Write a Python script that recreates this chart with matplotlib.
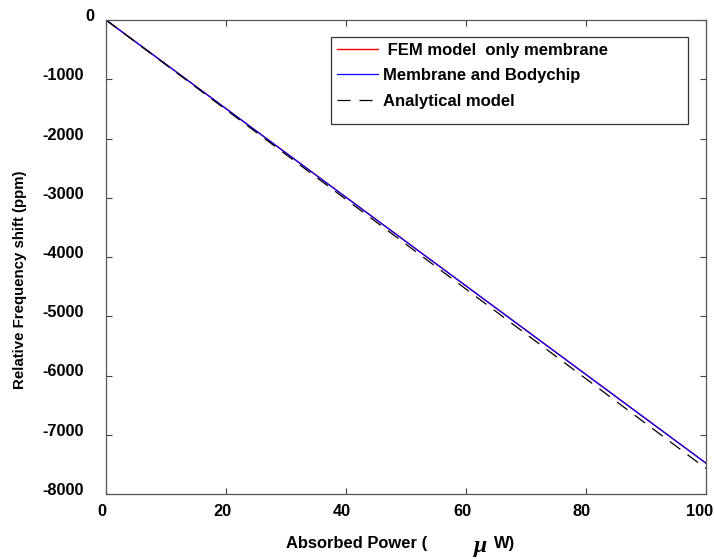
import matplotlib
matplotlib.use("Agg")
import matplotlib.pyplot as plt
import matplotlib.transforms as mtransforms
from matplotlib.patches import Rectangle

plt.rcParams["font.family"] = ["Liberation Sans", "DejaVu Sans"]
plt.rcParams["font.weight"] = "bold"
plt.rcParams["axes.unicode_minus"] = False

# Absorbed power (uW) and frequency shift (ppm)
power = [0, 100]
fem_membrane = [0, -7480]
membrane_bodychip = [0, -7480]
analytical = [0, -7570]

x_ticks = [0, 20, 40, 60, 80, 100]
y_ticks = [0, -1000, -2000, -3000, -4000, -5000, -6000, -7000, -8000]

fig = plt.figure(figsize=(7.14, 5.59), dpi=100)
ax = fig.add_axes([106 / 714, 1 - 494 / 559, 600 / 714, 474 / 559])

ax.plot(power, fem_membrane, color="red", lw=1.0, label=" FEM model  only membrane")
ax.plot(power, membrane_bodychip, color="blue", lw=0.9, label="Membrane and Bodychip")
ax.plot(power, analytical, color="black", lw=0.9, dashes=(10.4, 7.2), label="Analytical model")

ax.set_xlim(0, 100)
ax.set_ylim(-8000, 0)
ax.set_xticks(x_ticks)
ax.set_yticks(y_ticks)
ax.tick_params(direction="in", length=4, top=True, right=True, labelsize=11.8,
               color="#404040")
ax.tick_params(axis="x", pad=7)
ax.tick_params(axis="y", pad=16)
for s in ax.spines.values():
    s.set_color("#555555")
    s.set_linewidth(0.9)

# tick labels are nudged a little in the original (y up, x left)
def nudge(lbl, dx, dy):
    off = mtransforms.ScaledTranslation(dx / 100, dy / 100, fig.dpi_scale_trans)
    lbl.set_transform(lbl.get_transform() + off)

ylabels = ax.get_yticklabels()
for lbl in ylabels:
    nudge(lbl, 0, 5)
nudge(ylabels[0], 11, 0)  # the "0" sits closer to the axis
xlabels = ax.get_xticklabels()
for lbl in xlabels:
    nudge(lbl, -4, 0)
nudge(xlabels[-1], -2, 0)
for lbl in xlabels + ylabels:
    lbl.set_fontweight("bold")

# y label, slightly below the axes centre as in the original
fig.text(20 / 714, 1 - 280 / 559, "Relative Frequency shift (ppm)", fontsize=10.8,
         fontweight="bold", rotation=90, ha="center", va="center")
# x label in three pieces
fig.text(286 / 714, 1 - 548 / 559, "Absorbed Power (", fontsize=11.9,
         fontweight="bold", va="baseline")
fig.text(474 / 714, 1 - 552 / 559, "\u03bc", fontsize=17, family="Liberation Serif",
         style="italic", fontweight="bold", va="baseline")
fig.text(494 / 714, 1 - 548 / 559, "W)", fontsize=11.9, fontweight="bold", va="baseline")

# legend: text block plus a wider box, like the original
box = Rectangle((225 / 600, (494 - 124) / 474), 357 / 600, 87 / 474,
                transform=ax.transAxes, facecolor="white", edgecolor="#333333",
                lw=0.9, zorder=4)
ax.add_patch(box)
leg = ax.legend(loc="upper left", bbox_to_anchor=(231 / 600, (494 - 43) / 474),
                fontsize=12, handlelength=2.46, handletextpad=0.3, borderpad=0,
                borderaxespad=0, labelspacing=0.62, frameon=False)
leg.set_zorder(5)
for t in leg.get_texts():
    t.set_fontweight("bold")

plt.savefig("out.png", dpi=100)
